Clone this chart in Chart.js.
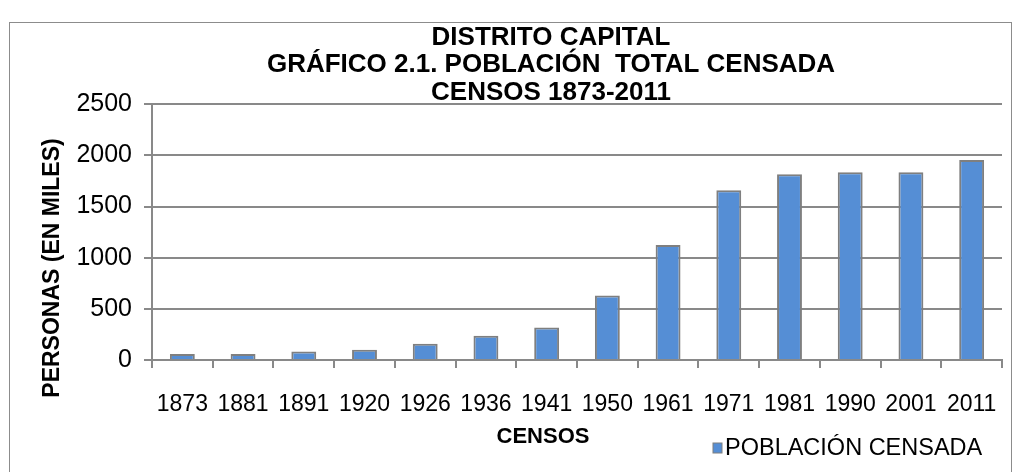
<!DOCTYPE html>
<html>
<head>
<meta charset="utf-8">
<script src="https://cdn.jsdelivr.net/npm/chart.js@4"></script>
<style>
  html, body { margin: 0; padding: 0; background: #fff; overflow: hidden; }
  #wrap { position: relative; width: 1023px; height: 472px; }
  #frame { position: absolute; left: 9px; top: 22px; width: 1003px; height: 520px; border: 1.5px solid #8c8c8c; box-sizing: border-box; }
  #chartBox { position: absolute; left: 0; top: 0; width: 1023px; height: 472px; }
</style>
</head>
<body>
<div id="wrap">
  <div id="frame"></div>
  <div id="chartBox"><canvas id="mychart"></canvas></div>
</div>
<script>
var censos = ["1873","1881","1891","1920","1926","1936","1941","1950","1961","1971","1981","1990","2001","2011"]
var poblacion = [59, 59, 82, 101, 160, 238, 317, 630, 1124, 1660, 1817, 1836, 1836, 1954]
var yTicks = [0, 500, 1000, 1500, 2000, 2500]

var titulo = ["DISTRITO CAPITAL", "GRÁFICO 2.1. POBLACIÓN  TOTAL CENSADA", "CENSOS 1873-2011"]
var tituloY = "PERSONAS (EN MILES)"
var tituloX = "CENSOS"
var serie = "POBLACIÓN CENSADA"

var fam = '"Liberation Sans", Arial, sans-serif'
var gris = '#898989'

// axis titles + legend are placed like Excel did it (off-centre, legend on the same row as the x title)
var extrasPlugin = {
    id: 'extras',
    afterLayout: function(chart){
        // y axis box was squeezed in afterFit, widen its left edge again so the labels are not clipped
        chart.scales.y.left = 60
    },
    afterDraw: function(chart){
        var a = chart.chartArea
        var ctx = chart.ctx
        var ds = chart.data.datasets[0]
        ctx.save()
        ctx.fillStyle = '#000'
        ctx.textBaseline = 'middle'

        // x title
        ctx.font = 'bold 22px ' + fam
        ctx.textAlign = 'center'
        ctx.fillText(tituloX, a.left + (a.right - a.left) * 0.46, a.bottom + 77)

        // y title
        ctx.save()
        ctx.translate(52.5, a.bottom - 92)
        ctx.rotate(-Math.PI / 2)
        ctx.font = 'bold 23px ' + fam
        ctx.fillText(tituloY, 0, 0)
        ctx.restore()

        // legend
        var lx = a.right - 277
        var ly = a.bottom + 88
        ctx.fillStyle = ds.backgroundColor
        ctx.fillRect(lx - 12, ly - 5, 9, 10)
        ctx.strokeStyle = ds.borderColor
        ctx.lineWidth = 1
        ctx.strokeRect(lx - 12, ly - 5, 9, 10)
        ctx.fillStyle = '#000'
        ctx.textAlign = 'left'
        ctx.font = '23.5px ' + fam
        ctx.fillText(ds.label, lx, ly + 1)
        ctx.restore()
    }
}

var ctx = document.getElementById("mychart").getContext('2d')

var chart = new Chart(ctx, {
    type: 'bar',
    data: {
        labels: censos,
        datasets: [{
            label: serie,
            data: poblacion,
            backgroundColor: '#558ed5',
            borderColor: '#7f7f7f',
            borderWidth: 2,
            categoryPercentage: 1,
            barPercentage: 0.41
        }]
    },
    options: {
        responsive: true,
        maintainAspectRatio: false,
        animation: false,
        // big left padding pushes the (full width) title right, the y axis width is fixed in afterFit
        layout: { padding: { left: 100, right: 21, top: 0, bottom: 30.6 } },
        plugins: {
            title: {
                display: true,
                text: titulo,
                color: '#000',
                font: { family: fam, size: 26, weight: 'bold', lineHeight: 1.065 },
                padding: { top: 23.5, bottom: -2.3 }
            },
            legend: { display: false },
            tooltip: { enabled: false }
        },
        scales: {
            x: {
                grid: { display: true, drawOnChartArea: false, drawTicks: true, tickLength: 8, color: gris, lineWidth: 2, offset: true },
                border: { display: true, color: gris, width: 2 },
                ticks: { color: '#000', font: { family: fam, size: 23 }, padding: 22.9, maxRotation: 0, autoSkip: false }
            },
            y: {
                min: 0,
                max: 2500,
                afterBuildTicks: function(scale){
                    scale.ticks = yTicks.map(function(v){ return { value: v } })
                },
                afterFit: function(scale){
                    scale.width = 52
                },
                grid: { color: gris, lineWidth: 2, tickLength: 8 },
                border: { display: true, color: gris, width: 2 },
                ticks: {
                    color: '#000',
                    font: { family: fam, size: 25 },
                    padding: 12,
                    callback: function(v){ return String(v) }
                }
            }
        }
    },
    plugins: [extrasPlugin]
})
</script>
</body>
</html>
